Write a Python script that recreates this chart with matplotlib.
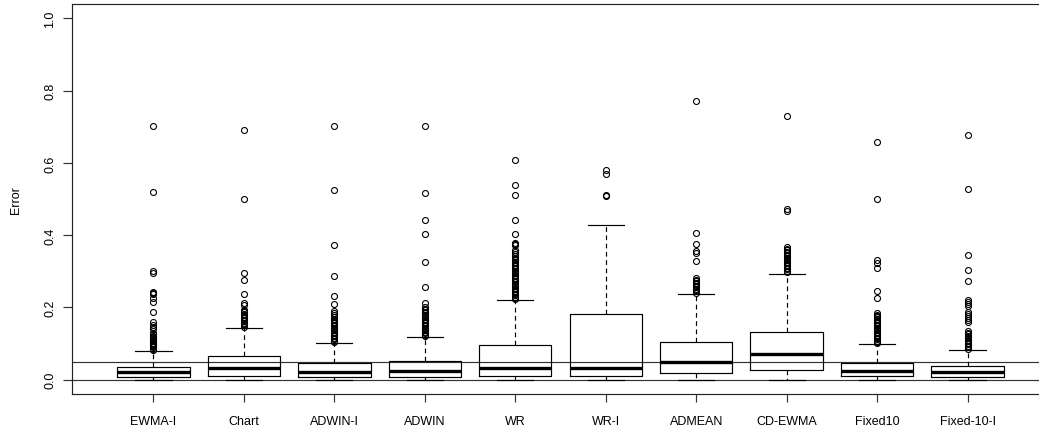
import matplotlib
matplotlib.use("Agg")
import matplotlib.pyplot as plt

plt.rcParams['font.family'] = ['Liberation Sans', 'DejaVu Sans']

methods = ["EWMA-I", "Chart", "ADWIN-I", "ADWIN", "WR", "WR-I", "ADMEAN", "CD-EWMA", "Fixed10", "Fixed-10-I"]
q1 =      [0.0075, 0.010, 0.008, 0.008, 0.010, 0.010, 0.017, 0.026, 0.010, 0.0075]
median =  [0.020, 0.031, 0.020, 0.023, 0.033, 0.031, 0.048, 0.070, 0.025, 0.020]
q3 =      [0.036, 0.064, 0.046, 0.051, 0.095, 0.182, 0.104, 0.132, 0.046, 0.038]
whis_lo = [0.0, 0.0, 0.0, 0.0, 0.0, 0.0, 0.0, 0.0, 0.0, 0.0]
whis_hi = [0.080, 0.144, 0.101, 0.119, 0.220, 0.428, 0.236, 0.293, 0.098, 0.083]

out_ewma_i = [0.703, 0.519, 0.300, 0.296, 0.242, 0.239, 0.236, 0.225, 0.215, 0.188, 0.159, 0.152,
              0.146, 0.139, 0.130, 0.126, 0.122, 0.118, 0.114, 0.110, 0.106, 0.102, 0.098, 0.095,
              0.092, 0.089, 0.086, 0.083]
out_chart = [0.690, 0.500, 0.295, 0.275, 0.236, 0.211, 0.206, 0.194, 0.190, 0.186, 0.182, 0.178,
             0.174, 0.170, 0.166, 0.162, 0.158, 0.154, 0.150, 0.146]
out_adwin_i = [0.703, 0.525, 0.373, 0.288, 0.232, 0.208, 0.189, 0.184, 0.180, 0.172, 0.168, 0.164,
               0.160, 0.156, 0.152, 0.148, 0.144, 0.140, 0.136, 0.132, 0.128, 0.124, 0.120, 0.116,
               0.112, 0.108, 0.104]
out_adwin = [0.703, 0.516, 0.441, 0.404, 0.325, 0.257, 0.213, 0.200, 0.196, 0.192, 0.188, 0.184,
             0.180, 0.176, 0.172, 0.168, 0.164, 0.160, 0.156, 0.152, 0.148, 0.144, 0.140, 0.136,
             0.132, 0.128, 0.124, 0.121]
out_wr = [0.609, 0.540, 0.512, 0.441, 0.404, 0.379, 0.376, 0.374, 0.360, 0.354, 0.348, 0.342,
          0.338, 0.334, 0.330, 0.326, 0.322, 0.318, 0.314, 0.310, 0.306, 0.302, 0.298, 0.294,
          0.290, 0.286, 0.282, 0.278, 0.274, 0.270, 0.266, 0.262, 0.258, 0.254, 0.250, 0.246,
          0.242, 0.238, 0.234, 0.230, 0.226, 0.222]
out_wr_i = [0.580, 0.568, 0.510, 0.507]
out_admean = [0.772, 0.407, 0.375, 0.357, 0.351, 0.328, 0.280, 0.276, 0.272, 0.268, 0.264, 0.260,
              0.256, 0.252, 0.248, 0.244, 0.240]
out_cd_ewma = [0.730, 0.472, 0.467, 0.367, 0.362, 0.358, 0.354, 0.350, 0.346, 0.342, 0.338, 0.334,
               0.330, 0.326, 0.322, 0.318, 0.314, 0.310, 0.306, 0.302, 0.298]
out_fixed10 = [0.659, 0.500, 0.330, 0.322, 0.308, 0.245, 0.226, 0.185, 0.180, 0.176, 0.172, 0.168,
               0.164, 0.160, 0.156, 0.152, 0.148, 0.144, 0.140, 0.136, 0.132, 0.128, 0.124, 0.120,
               0.116, 0.112, 0.108, 0.104, 0.100]
out_fixed10_i = [0.678, 0.529, 0.345, 0.303, 0.273, 0.219, 0.214, 0.208, 0.203, 0.186, 0.181, 0.176,
                 0.170, 0.164, 0.159, 0.134, 0.130, 0.126, 0.122, 0.118, 0.114, 0.110, 0.106, 0.102,
                 0.098, 0.094, 0.090, 0.086]
outliers = [out_ewma_i, out_chart, out_adwin_i, out_adwin, out_wr, out_wr_i, out_admean,
            out_cd_ewma, out_fixed10, out_fixed10_i]

ref_lines = [0.0, 0.05]
yticks = [0.0, 0.2, 0.4, 0.6, 0.8, 1.0]

W, H = 1039, 435
fig = plt.figure(figsize=(W / 100, H / 100), dpi=100)
left_px, right_px, top_px, bot_px = 72, 1049, 5, 395
ax = fig.add_axes([left_px / W, (H - bot_px) / H, (right_px - left_px) / W, (bot_px - top_px) / H])

stats = []
for i, m in enumerate(methods):
    stats.append(dict(label=m, med=median[i], q1=q1[i], q3=q3[i],
                      whislo=whis_lo[i], whishi=whis_hi[i], fliers=outliers[i]))

lw = 0.85
positions = list(range(1, len(methods) + 1))
ax.bxp(stats, positions=positions, widths=0.8, showfliers=True,
       boxprops=dict(color='black', linewidth=lw),
       medianprops=dict(color='black', linewidth=2.4, solid_capstyle='butt'),
       whiskerprops=dict(color='black', linewidth=lw, linestyle=(0, (4, 3))),
       capprops=dict(color='black', linewidth=lw),
       capwidths=0.4,
       flierprops=dict(marker='o', markerfacecolor='none', markeredgecolor='black',
                       markersize=4.3, markeredgewidth=0.8, linestyle='none'))

for h in ref_lines:
    ax.axhline(h, color='#333333', linewidth=lw, zorder=0.5)

ax.set_xlim(0.1, 10.9)
ax.set_ylim(-0.04, 1.04)
ax.set_yticks(yticks)
ax.set_yticklabels([f"{t:.1f}" for t in yticks], rotation=90, va='center', fontsize=9)
ax.set_xticks(positions)
ax.set_xticklabels(methods, fontsize=9)
ax.tick_params(axis='y', length=6.5, width=lw, pad=5, color='#333333')
ax.tick_params(axis='x', length=6, width=lw, pad=9, color='#333333')
ax.set_ylabel("Error", fontsize=9)
ax.yaxis.set_label_coords(-(72 - 22) / (right_px - left_px), 0.5)
for s in ax.spines.values():
    s.set_linewidth(lw)
    s.set_color('#222222')

fig.savefig("out.png", dpi=100)
